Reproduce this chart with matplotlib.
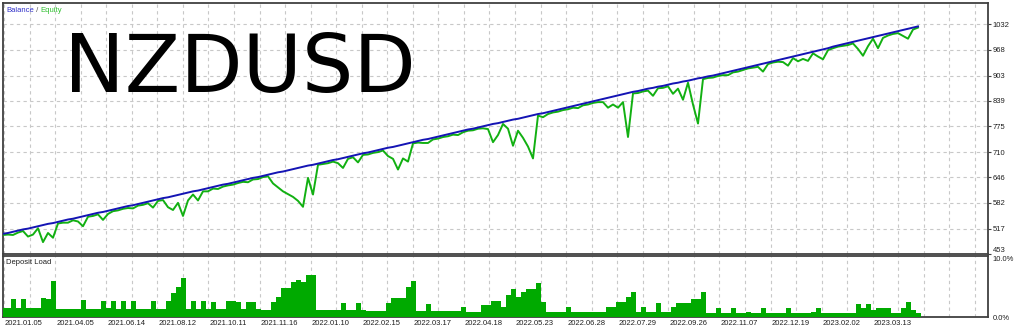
import numpy as np
import matplotlib
matplotlib.use("Agg")
import matplotlib.pyplot as plt

# ---------------- data ----------------
balance = [504, 506, 509, 512, 515, 517, 520, 523, 526, 529, 531, 534, 537, 540, 542, 545,
           548, 551, 554, 557, 559, 562, 565, 568, 571, 574, 576, 579, 582, 585, 588, 591,
           594, 596, 599, 602, 605, 608, 611, 613, 616, 619, 622, 625, 628, 630, 633, 636,
           639, 642, 645, 647, 650, 653, 656, 659, 661, 664, 667, 670, 673, 676, 678, 681,
           684, 687, 690, 692, 695, 698, 701, 704, 707, 709, 712, 715, 718, 721, 723, 726,
           729, 732, 735, 738, 741, 743, 746, 749, 752, 755, 758, 761, 764, 767, 769, 772,
           775, 778, 781, 783, 786, 789, 792, 794, 797, 800, 803, 806, 808, 811, 814, 817,
           820, 823, 826, 829, 832, 835, 838, 841, 844, 847, 850, 853, 856, 859, 862, 864,
           867, 870, 872, 875, 877, 880, 883, 885, 888, 890, 893, 896, 898, 901, 903, 906,
           909, 912, 915, 918, 921, 924, 927, 930, 933, 936, 939, 942, 945, 948, 951, 954,
           957, 960, 963, 966, 969, 972, 976, 979, 982, 985, 988, 991, 994, 997, 1000, 1003,
           1006, 1009, 1012, 1015, 1018, 1021, 1024, 1027]

equity = [501, 502, 501, 507, 511, 497, 502, 518, 483, 506, 494, 530, 532, 532, 538, 535,
          523, 547, 549, 553, 539, 554, 561, 563, 567, 569, 568, 575, 577, 581, 570, 587,
          589, 571, 564, 582, 549, 588, 603, 588, 611, 611, 618, 617, 623, 626, 628, 632,
          635, 634, 641, 642, 647, 649, 631, 621, 611, 604, 597, 587, 572, 645, 603, 678,
          680, 682, 686, 682, 670, 693, 697, 684, 703, 704, 708, 710, 714, 700, 693, 666,
          694, 686, 732, 734, 733, 733, 742, 744, 748, 750, 754, 753, 760, 764, 765, 769,
          770, 768, 735, 753, 781, 769, 726, 764, 746, 724, 694, 802, 798, 806, 810, 812,
          816, 818, 822, 821, 828, 830, 834, 836, 836, 822, 830, 822, 836, 748, 858, 859,
          863, 865, 852, 871, 872, 876, 857, 870, 842, 885, 830, 782, 894, 897, 898, 902,
          904, 904, 911, 913, 917, 921, 923, 925, 913, 932, 936, 938, 937, 928, 947, 939,
          945, 940, 959, 951, 944, 967, 972, 976, 978, 980, 984, 970, 953, 977, 996, 972,
          998, 1004, 1008, 1010, 1003, 996, 1019, 1024]

deposit_load = [1.5, 1.5, 3.0, 1.5, 3.0, 1.5, 1.5, 1.5, 3.1, 3.0, 5.9, 1.3, 1.3, 1.3, 1.3, 1.3,
                2.8, 1.3, 1.3, 1.3, 2.7, 1.4, 2.6, 1.3, 2.6, 1.3, 2.6, 1.3, 1.3, 1.3, 2.6, 1.3,
                1.3, 2.6, 3.9, 4.9, 6.4, 1.3, 2.6, 1.3, 2.6, 1.3, 2.4, 1.3, 1.3, 2.6, 2.6, 2.4,
                1.3, 2.4, 2.4, 1.3, 1.1, 1.1, 2.4, 3.3, 4.7, 4.7, 5.7, 6.1, 5.7, 6.9, 6.9, 1.1,
                1.1, 1.1, 1.1, 1.1, 2.3, 1.1, 1.1, 2.3, 1.1, 1.0, 1.0, 1.0, 1.0, 2.3, 3.1, 3.1,
                3.1, 4.9, 5.9, 1.0, 1.0, 2.2, 1.0, 1.0, 1.0, 1.0, 1.0, 1.0, 1.6, 0.9, 0.9, 0.9,
                2.0, 2.0, 2.7, 2.7, 1.7, 3.6, 4.6, 3.3, 4.1, 4.6, 4.6, 5.5, 2.5, 0.9, 0.9, 0.9,
                0.9, 1.6, 0.9, 0.9, 0.9, 0.9, 0.9, 0.9, 0.9, 1.6, 1.6, 2.4, 2.4, 3.2, 4.1, 0.9,
                1.6, 0.9, 0.9, 2.3, 0.9, 0.9, 1.6, 2.3, 2.3, 2.3, 3.0, 3.0, 4.1, 0.7, 0.7, 1.4,
                0.7, 0.7, 1.4, 0.7, 0.7, 0.8, 0.7, 0.7, 1.5, 0.7, 0.7, 0.7, 0.7, 1.5, 0.7, 0.7,
                0.7, 0.7, 0.8, 1.5, 0.7, 0.7, 0.7, 0.7, 0.7, 0.7, 0.7, 2.2, 1.4, 2.2, 1.2, 1.4,
                1.4, 1.4, 0.7, 0.7, 1.4, 2.5, 1.2, 0.7]

y_tick_labels = ["453", "517", "582", "646", "710", "775", "839", "903", "968", "1032"]
date_labels = ["2021.01.05", "2021.04.05", "2021.06.14", "2021.08.12", "2021.10.11",
               "2021.11.16", "2022.01.10", "2022.02.15", "2022.03.17", "2022.04.18",
               "2022.05.23", "2022.06.28", "2022.07.29", "2022.09.26", "2022.11.07",
               "2022.12.19", "2023.02.02", "2023.03.13"]
symbol = "NZDUSD"

# ---------------- styling ----------------
BLUE = "#1414b4"
GREEN = "#12b012"
FILL = "#00aa00"
GRID = "#c8c8c8"
FRAME = "#404040"
TXT = "#202020"
small_font = dict(family=["Liberation Sans", "DejaVu Sans"], size=5.5)

W, H = 1024, 330
fig = plt.figure(figsize=(W / 100, H / 100), dpi=100)
fig.patch.set_facecolor("white")

def fx(px):
    return px / W

def fy(py):
    return 1 - py / H

left_px, right_px = 3, 988
ax = fig.add_axes([fx(left_px), fy(254), fx(right_px - left_px), (254 - 3) / H])
ax2 = fig.add_axes([fx(left_px), fy(317), fx(right_px - left_px), (317 - 256) / H])

x = np.arange(len(balance))
x_span = (right_px - left_px) / 5.0      # one sample every 5 px
grid_step = 25.55 / 5.0
grid_pos = 0.2 + grid_step * np.arange(39)

for a in (ax, ax2):
    a.set_xlim(0, x_span)
    for s in a.spines.values():
        s.set_color(FRAME)
        s.set_linewidth(1.3)
    a.set_axisbelow(True)

# main panel
ax.plot(x, equity, color=GREEN, lw=1.4, zorder=3)
ax.plot(x, balance, color=BLUE, lw=1.4, zorder=4)
ax.set_ylim(453, 1086)
y_ticks = [int(v) for v in y_tick_labels]
ax.yaxis.tick_right()
ax.set_yticks(y_ticks)
ylab = ax.set_yticklabels(y_tick_labels, **small_font, color=TXT)
ylab[0].set_va("bottom")
ax.tick_params(axis="y", length=2, width=0.8, color=FRAME, pad=1.5)
ax.set_xticks(grid_pos)
ax.tick_params(axis="x", length=0, labelbottom=False)
ax.grid(True, color=GRID, lw=0.8, linestyle=(0, (3, 3)))

ax.text(fx(64), fy(92.3), symbol, transform=fig.transFigure, fontsize=58.3,
        family="DejaVu Sans", color="black", ha="left", va="baseline", zorder=5)

# legend text "Balance / Equity"
t1 = ax.text(fx(6.5), fy(10.5), "Balance", transform=fig.transFigure, color="#3030c8",
             va="center", ha="left", **small_font)
fig.canvas.draw()
bb = t1.get_window_extent()
t2 = ax.text(bb.x1 / W, fy(10.5), " / ", transform=fig.transFigure, color="#505050",
             va="center", ha="left", **small_font)
bb2 = t2.get_window_extent()
ax.text(bb2.x1 / W, fy(10.5), "Equity", transform=fig.transFigure, color="#30c030",
        va="center", ha="left", **small_font)

# deposit load panel
ax2.bar(x, deposit_load, width=1.0, color=FILL, linewidth=0, zorder=3)
ax2.set_ylim(0, 10)
ax2.yaxis.tick_right()
ax2.set_yticks([0, 10])
yl = ax2.set_yticklabels(["0.0%", "10.0%"], **small_font, color=TXT)
yl[1].set_va("top")
ax2.tick_params(axis="y", length=0, pad=3.5)
ax2.set_xticks(grid_pos)
ax2.tick_params(axis="x", length=0)
ax2.set_xticklabels([""] * len(grid_pos))
ax2.grid(True, axis="x", color=GRID, lw=0.8, linestyle=(0, (3, 3)))
ax2.text(fx(6.5), fy(262.7), "Deposit Load", transform=fig.transFigure, color=TXT,
         va="center", ha="left", **small_font)

# date labels, left-aligned on every second grid line
for k, lab in enumerate(date_labels):
    ax2.text(grid_pos[2 * k] + 0.2, -0.1, lab, transform=ax2.get_xaxis_transform(),
             ha="left", va="center", color=TXT, **small_font)

fig.savefig("out.png", dpi=100, facecolor="white")
